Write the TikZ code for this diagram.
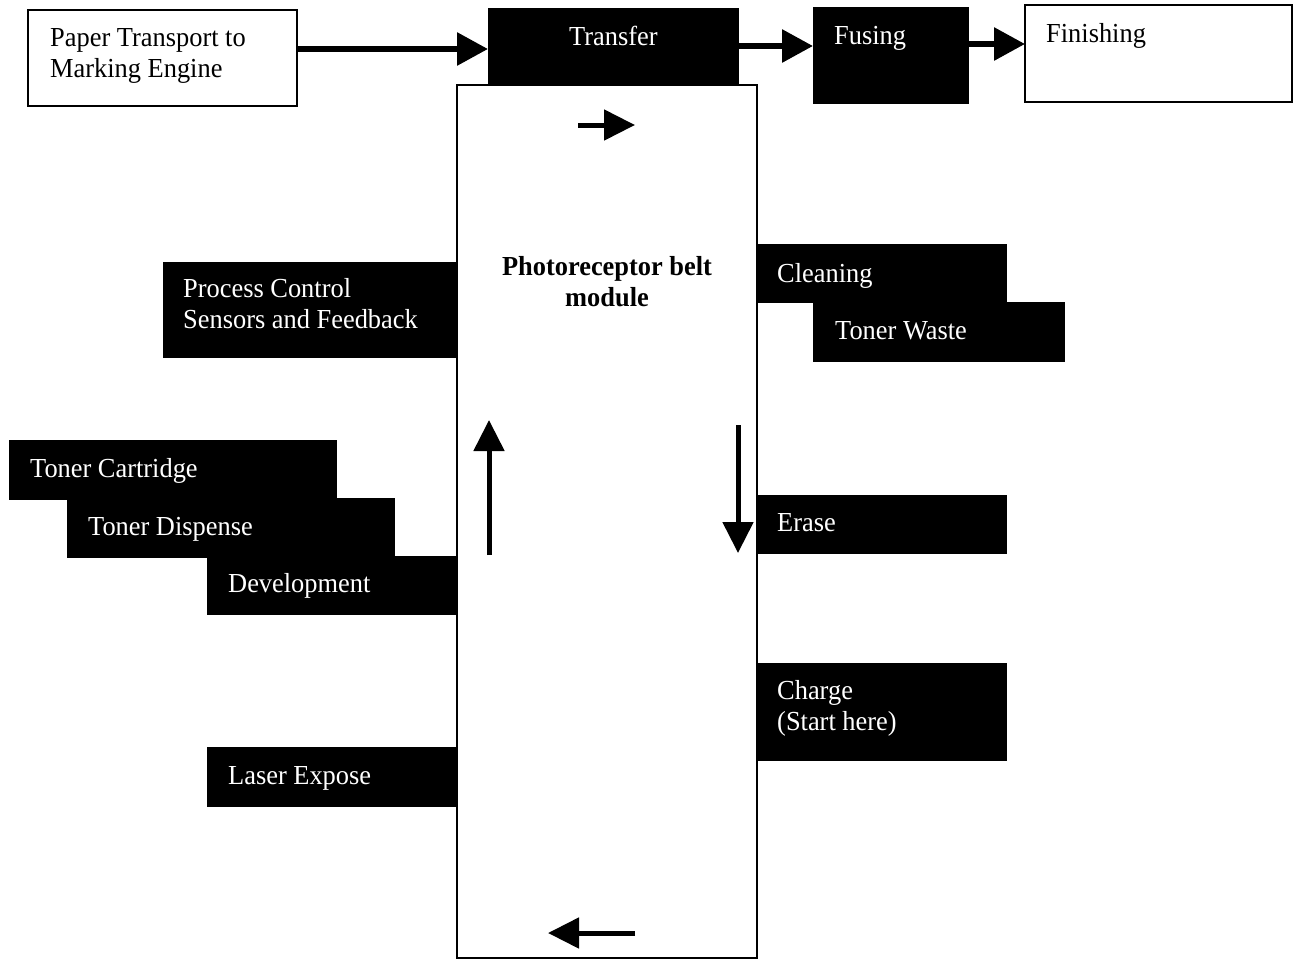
\documentclass[tikz,border=0pt]{standalone}
\usepackage{fontspec}
\setmainfont{Liberation Serif}[FakeStretch=0.96]
\usetikzlibrary{arrows.meta}

\begin{document}
\begin{tikzpicture}[x=1pt, y=-1pt,
  font=\fontsize{27.5}{31}\selectfont,
  darkbox/.style={fill=black, draw=black, line width=0.8pt, inner sep=0pt, outer sep=0pt},
  openbox/.style={fill=white, draw=black, line width=1.8pt, inner sep=0pt, outer sep=0pt},
  lbl/.style={inner sep=0pt, anchor=base west, align=left, text=white},
  dlbl/.style={lbl, text=black},
  flow/.style={line width=6pt, -{Triangle[length=31pt, width=32pt]}},
  beltflow/.style={line width=5pt, -{Triangle[length=31pt, width=30pt]}}]
\useasboundingbox (0,0) rectangle (1293,959);
\fill[white] (0,0) rectangle (1293,959);

% photoreceptor belt module (multi-line labels sit on their last baseline)
\node[openbox, minimum width=300pt, minimum height=873pt] (belt) at (607,521.5) {};
\node[inner sep=0pt, anchor=base, align=center, font=\fontsize{27.5}{31}\selectfont\bfseries] (beltlbl) at (607,306) {Photoreceptor belt\\module};

% paper path along the top
\node[openbox, minimum width=269pt, minimum height=96pt] (paper) at (162.5,58) {};
\node[dlbl] (paperlbl) at (50,77) {Paper Transport to\\Marking Engine};
\node[darkbox, minimum width=250pt, minimum height=77pt] (transfer) at (613,46.5) {};
\node[lbl] (transferlbl) at (569,45) {Transfer};
\node[darkbox, minimum width=155pt, minimum height=96pt] (fusing) at (890.5,55) {};
\node[lbl] (fusinglbl) at (834,44) {Fusing};
\node[openbox, minimum width=267pt, minimum height=97pt] (finishing) at (1158.5,53.5) {};
\node[dlbl] (finishinglbl) at (1046,42) {Finishing};

% stations on the left of the belt
\node[darkbox, minimum width=294pt, minimum height=95pt] (process) at (310,309.5) {};
\node[lbl] (processlbl) at (183,328) {Process Control\\Sensors and Feedback};
\node[darkbox, minimum width=327pt, minimum height=59pt] (cartridge) at (172.5,469.5) {};
\node[darkbox, minimum width=327pt, minimum height=59pt] (dispense) at (230.5,527.5) {};
\node[darkbox, minimum width=250pt, minimum height=58pt] (develop) at (332,585) {};
\node[lbl] (cartridgelbl) at (30,477) {Toner Cartridge};
\node[lbl] (dispenselbl) at (88,535) {Toner Dispense};
\node[lbl] (developlbl) at (228,592) {Development};
\node[darkbox, minimum width=250pt, minimum height=59pt] (laser) at (332,776.5) {};
\node[lbl] (laserlbl) at (228,784) {Laser Expose};

% stations on the right of the belt
\node[darkbox, minimum width=249pt, minimum height=58pt] (cleaning) at (881.5,273) {};
\node[darkbox, minimum width=251pt, minimum height=59pt] (waste) at (938.5,331.5) {};
\node[lbl] (cleaninglbl) at (777,282) {Cleaning};
\node[lbl] (wastelbl) at (835,339) {Toner Waste};
\node[darkbox, minimum width=249pt, minimum height=58pt] (erase) at (881.5,524) {};
\node[lbl] (eraselbl) at (777,531) {Erase};
\node[darkbox, minimum width=249pt, minimum height=97pt] (charge) at (881.5,711.5) {};
\node[lbl] (chargelbl) at (777,730) {Charge\\(Start here)};

% paper flow
\draw[flow] ([yshift=9pt]paper.east) -- ([yshift=-2.5pt]transfer.west);
\draw[flow] ([yshift=0.5pt]transfer.east) -- ([yshift=9pt]fusing.west);
\draw[flow] ([yshift=11pt]fusing.east) -- ([yshift=9.5pt]finishing.west);

% direction of belt travel
\coordinate (topA) at (578,125);
\coordinate (topB) at (635,125);
\coordinate (rightA) at (738,425);
\coordinate (rightB) at (738,553);
\coordinate (botA) at (635,933);
\coordinate (botB) at (548,933);
\coordinate (leftA) at (489,555);
\coordinate (leftB) at (489,420);
\draw[beltflow] (topA) -- (topB);
\draw[beltflow] (rightA) -- (rightB);
\draw[beltflow] (botA) -- (botB);
\draw[beltflow] (leftA) -- (leftB);
\end{tikzpicture}
\end{document}
